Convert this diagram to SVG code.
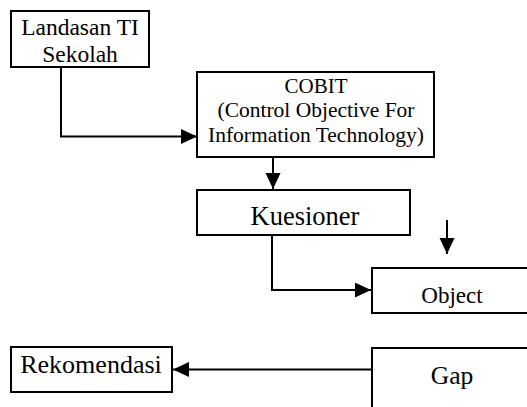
<svg xmlns="http://www.w3.org/2000/svg" width="527" height="407" viewBox="0 0 527 407">
<style>
.box{fill:#fff;stroke:#000;stroke-width:2}
.t{font-family:"Liberation Serif","Times New Roman",serif;fill:#000;text-anchor:middle}
.c{fill:none;stroke:#000;stroke-width:2}
</style>
<defs>
<marker id="ah" markerUnits="userSpaceOnUse" markerWidth="18" markerHeight="16" refX="16" refY="7.5" orient="auto">
<path d="M0,0 L16,7.5 L0,15 Z" fill="#000"/>
</marker>
</defs>
<rect width="527" height="407" fill="#fff"/>
<g id="connectors">
<path class="c" d="M61,67 V136.5 H197" marker-end="url(#ah)"/>
<path class="c" d="M273,157 V189" marker-end="url(#ah)"/>
<path class="c" d="M272,235 V290 H371" marker-end="url(#ah)"/>
<path class="c" d="M447,220 V254" marker-end="url(#ah)"/>
<path class="c" d="M372,369.5 H173" marker-end="url(#ah)"/>
</g>
<g id="landasan">
<rect class="box" x="11" y="11" width="138" height="56"/>
<text class="t" x="80" y="35" font-size="23.5">Landasan TI</text>
<text class="t" x="80" y="61.5" font-size="23.5">Sekolah</text>
</g>
<g id="cobit">
<rect class="box" x="197" y="72" width="237" height="85"/>
<text class="t" x="316" y="92.5" font-size="21">COBIT</text>
<text class="t" x="316" y="117" font-size="21.5">(Control Objective For</text>
<text class="t" x="316" y="141.5" font-size="21.5">Information Technology)</text>
</g>
<g id="kuesioner">
<rect class="box" x="197" y="190" width="213" height="45"/>
<text class="t" x="305" y="225" font-size="26.5">Kuesioner</text>
</g>
<g id="object">
<rect class="box" x="372" y="268" width="200" height="45"/>
<text class="t" x="452" y="303" font-size="23">Object</text>
</g>
<g id="gap">
<rect class="box" x="372" y="348" width="200" height="80"/>
<text class="t" x="452" y="383.5" font-size="25.5">Gap</text>
</g>
<g id="rekomendasi">
<rect class="box" x="11" y="347" width="161" height="45"/>
<text class="t" x="91" y="373" font-size="26">Rekomendasi</text>
</g>
</svg>
